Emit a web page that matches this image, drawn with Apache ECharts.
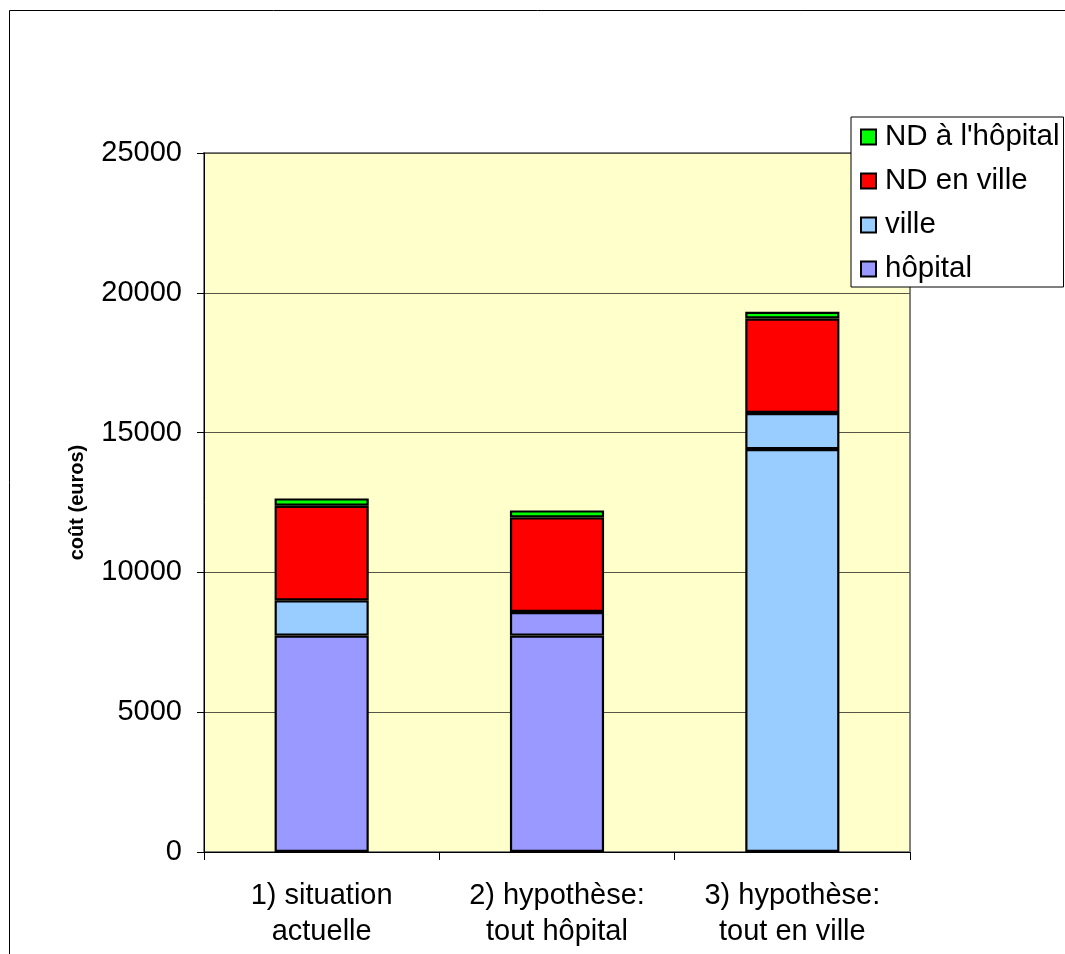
<!DOCTYPE html>
<html>
<head>
<meta charset="utf-8">
<script src="https://cdn.jsdelivr.net/npm/echarts@6/dist/echarts.min.js"></script>
<style>
html,body{margin:0;padding:0;background:#fff;}
#main{width:1065px;height:954px;}
</style>
</head>
<body>
<div id="main"></div>
<script>
const categories = ['1) situation\nactuelle', '2) hypothèse:\ntout hôpital', '3) hypothèse:\ntout en ville'];
const hopital = [7740, 7740, 14410];
const ville = [1260, 844, 1290];
const ndVille = [3385, 3383, 3383];
const ndHopital = [262, 250, 240];
const yTicks = [0, 5000, 10000, 15000, 20000, 25000];

const C_HOP = '#9999FF', C_VIL = '#99CCFF', C_NDV = '#FF0000', C_NDH = '#00FF00';
const FONT = 'Liberation Sans, Arial, sans-serif';

// point-level colour overrides seen in the reference
function withColor(values, overrides) {
  return values.map((v, i) => overrides[i] ? { value: v, itemStyle: { color: overrides[i] } } : v);
}

const chart = echarts.init(document.getElementById('main'), null, { renderer: 'canvas' });
const barStyle = { borderColor: '#000', borderWidth: 2.2 };
const mk = (name, data, color) => ({
  name, type: 'bar', stack: 'total', data, barWidth: '40%',
  itemStyle: Object.assign({ color }, barStyle),
  emphasis: { disabled: true }
});

chart.setOption({
  animation: false,
  textStyle: { fontFamily: FONT },
  graphic: [{
    type: 'rect', z: -10, silent: true,
    shape: { x: 9.5, y: 10.5, width: 1200, height: 1200 },
    style: { fill: 'none', stroke: '#000', lineWidth: 1 }
  }],
  grid: {
    left: 204, right: 155, top: 153, bottom: 102,
    show: true, backgroundColor: '#FFFFCC', borderColor: '#808080', borderWidth: 2
  },
  legend: {
    orient: 'vertical', left: 851, top: 117,
    data: ['ND à l\'hôpital', 'ND en ville', 'ville', 'hôpital'],
    itemWidth: 15, itemHeight: 15, itemGap: 14,
    padding: [5, 4, 3, 9],
    borderColor: '#000', borderWidth: 1, backgroundColor: '#fff',
    icon: 'rect',
    textStyle: { fontSize: 29.5, color: '#000', fontFamily: FONT, lineHeight: 30, padding: [0, 0, 0, 4] },
    selectedMode: false
  },
  xAxis: {
    type: 'category', data: categories,
    axisLine: { lineStyle: { color: '#000', width: 1 } },
    axisTick: { show: true, length: 8, alignWithLabel: false, lineStyle: { color: '#000' } },
    axisLabel: { fontSize: 29, color: '#000', lineHeight: 36, margin: 26, fontFamily: FONT, interval: 0 },
    splitLine: { show: false }
  },
  yAxis: {
    type: 'value', min: yTicks[0], max: yTicks[yTicks.length - 1], interval: yTicks[1] - yTicks[0],
    name: 'coût (euros)', nameLocation: 'middle', nameGap: 117, nameRotate: 90,
    nameTextStyle: { fontSize: 20, fontWeight: 'bold', color: '#000', fontFamily: FONT },
    axisLine: { show: true, lineStyle: { color: '#000', width: 1 } },
    axisTick: { show: true, length: 7, lineStyle: { color: '#000' } },
    axisLabel: { fontSize: 29, color: '#000', margin: 22, fontFamily: FONT, formatter: v => String(v) },
    splitLine: { show: true, lineStyle: { color: '#555548', width: 1 } }
  },
  series: [
    mk('hôpital', withColor(hopital, [null, null, C_VIL]), C_HOP),
    mk('ville', withColor(ville, [null, C_HOP, null]), C_VIL),
    mk('ND en ville', ndVille, C_NDV),
    mk('ND à l\'hôpital', ndHopital, C_NDH)
  ]
});
</script>
</body>
</html>
